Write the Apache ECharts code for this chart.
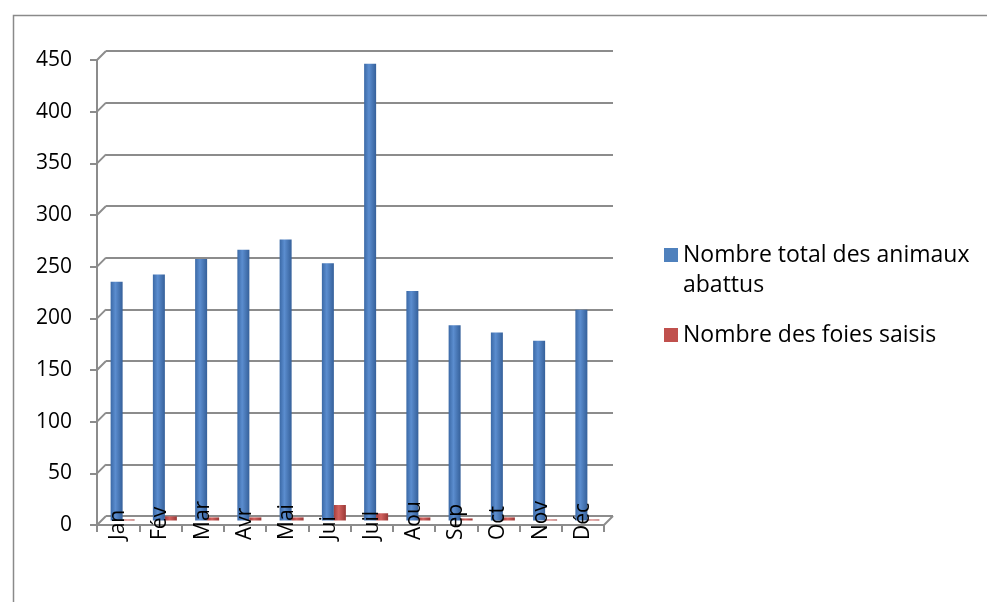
<!DOCTYPE html>
<html>
<head>
<meta charset="utf-8">
<script src="https://cdn.jsdelivr.net/npm/echarts@6/dist/echarts.min.js"></script>
<style>
html,body{margin:0;padding:0;background:#fff;}
#c{width:987px;height:602px;}
</style>
</head>
<body>
<div id="c"></div>
<script>
const categories = ['Jan','Fév','Mar','Avr','Mai','Jui','Juil','Aou','Sep','Oct','Nov','Déc'];
const totalAbattus = [231, 238, 253, 262, 272, 249, 442, 222, 189, 182, 174, 204];
const foiesSaisis = [1, 4, 3, 3, 3, 15, 7, 3, 2, 3, 1, 1];
const yTickValues = [0, 50, 100, 150, 200, 250, 300, 350, 400, 450];
const seriesNames = ['Nombre total des animaux abattus', 'Nombre des foies saisis'];

const FONT = 'Open Sans';
const GRAY = '#8c8c8c';

const chart = echarts.init(document.getElementById('c'), null, {renderer: 'canvas'});

const blueGrad = new echarts.graphic.LinearGradient(0, 0, 1, 0, [
  {offset: 0, color: '#3b69a6'},
  {offset: 0.4, color: '#5b8dcf'},
  {offset: 1, color: '#35609a'}
]);
const redGrad = new echarts.graphic.LinearGradient(0, 0, 1, 0, [
  {offset: 0, color: '#a63f3c'},
  {offset: 0.4, color: '#d2625f'},
  {offset: 1, color: '#9a3836'}
]);

const option = {
  animation: false,
  backgroundColor: '#fff',
  graphic: [{
    type: 'rect', left: 11, top: 13, z: -10,
    shape: {width: 1000, height: 1000},
    style: {fill: 'none', stroke: '#8a8a8a', lineWidth: 1.5}
  }],
  grid: [
    {left: 97, top: 60, width: 507, height: 465},      // front
    {left: 106, top: 51, width: 507, height: 465},     // back wall
    {left: 101.5, top: 55.5, width: 507, height: 465}  // bars (mid depth)
  ],
  xAxis: [
    {
      type: 'category', gridIndex: 0, data: categories, z: 10,
      axisLine: {show: true, lineStyle: {color: GRAY, width: 2}},
      axisTick: {show: true, length: 7, lineStyle: {color: GRAY, width: 2}},
      axisLabel: {interval: 0, rotate: 90, align: 'left', margin: 15,
        fontFamily: FONT, fontSize: 21, color: '#000'},
      splitLine: {show: false}
    },
    {type: 'category', gridIndex: 1, data: categories, show: false},
    {type: 'category', gridIndex: 2, data: categories, show: false}
  ],
  yAxis: [
    {
      type: 'value', gridIndex: 0, min: 0, max: 450, interval: 50,
      axisLine: {show: true, lineStyle: {color: GRAY, width: 2}},
      axisTick: {show: true, length: 7, lineStyle: {color: GRAY, width: 2}},
      axisLabel: {margin: 25, fontFamily: FONT, fontSize: 21, color: '#000'},
      splitLine: {show: false}
    },
    {
      type: 'value', gridIndex: 1, min: 0, max: 450, interval: 50,
      axisLine: {show: false}, axisTick: {show: false}, axisLabel: {show: false},
      splitLine: {show: true, lineStyle: {color: GRAY, width: 2}}
    },
    {type: 'value', gridIndex: 2, min: 0, max: 450, interval: 50, show: false, splitLine: {show: false}}
  ],
  legend: [
    {
      left: 664, top: 210, padding: 0, orient: 'vertical',
      itemWidth: 14, itemHeight: 14, icon: 'rect',
      data: [{name: seriesNames[0], itemStyle: {color: '#4f81bd'}}],
      formatter: n => '\n' + n.replace(' abattus', '\nabattus'),
      textStyle: {fontFamily: FONT, fontSize: 23, lineHeight: 30, color: '#000'}
    },
    {
      left: 664, top: 320, padding: 0, orient: 'vertical',
      itemWidth: 14, itemHeight: 14, icon: 'rect',
      data: [{name: seriesNames[1], itemStyle: {color: '#c0504d'}}],
      textStyle: {fontFamily: FONT, fontSize: 23, lineHeight: 30, color: '#000'}
    }
  ],
  series: [
    {
      name: seriesNames[0], type: 'bar', xAxisIndex: 2, yAxisIndex: 2,
      data: totalAbattus, barWidth: 12, barGap: '0%', z: 3,
      itemStyle: {color: blueGrad}
    },
    {
      name: seriesNames[1], type: 'bar', xAxisIndex: 2, yAxisIndex: 2,
      data: foiesSaisis, barWidth: 12, barGap: '0%', z: 3,
      itemStyle: {color: redGrad}
    },
    {
      // perspective connectors between front axis and back wall
      type: 'custom', xAxisIndex: 0, yAxisIndex: 0, silent: true, z: 1,
      data: yTickValues.map(v => [0, v]),
      renderItem: function (params, api) {
        const v = api.value(1);
        const band = api.size([1, 0])[0];
        const p = api.coord([0, v]);
        const x0 = p[0] - band / 2;
        const children = [{
          type: 'line',
          shape: {x1: x0, y1: p[1], x2: x0 + 9, y2: p[1] - 9},
          style: {stroke: GRAY, lineWidth: 2}
        }];
        if (v === 0) {
          const q = api.coord([11, 0]);
          const xr = q[0] + band / 2;
          children.push({
            type: 'line',
            shape: {x1: xr, y1: q[1], x2: xr + 9, y2: q[1] - 9},
            style: {stroke: GRAY, lineWidth: 2}
          });
        }
        return {type: 'group', children: children};
      }
    }
  ]
};
chart.setOption(option);
</script>
</body>
</html>
